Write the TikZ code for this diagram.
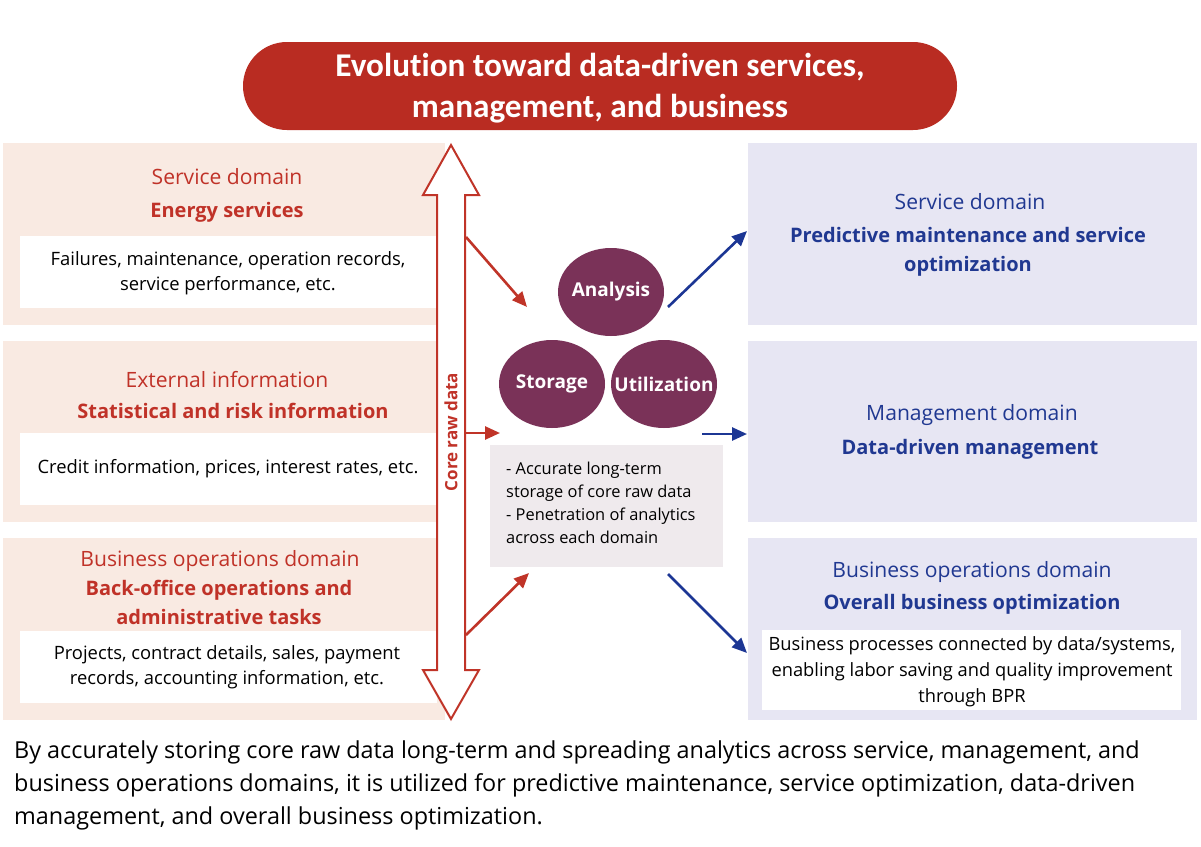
\documentclass[tikz,border=0pt]{standalone}
\usepackage{fontspec}
\setmainfont{Open Sans}
\newfontfamily\titlefont[Ligatures=NoCommon]{Carlito}
\usetikzlibrary{arrows.meta,shapes.geometric}
\definecolor{titlered}{RGB}{185,44,34}
\definecolor{lpanel}{RGB}{249,234,226}
\definecolor{redtxt}{RGB}{192,50,40}
\definecolor{arrred}{RGB}{192,52,40}
\definecolor{purp}{RGB}{122,50,88}
\definecolor{graybox}{RGB}{239,234,237}
\definecolor{rpanel}{RGB}{231,230,243}
\definecolor{bluetxt}{RGB}{32,56,145}
\definecolor{arrblue}{RGB}{28,54,148}
\tikzset{
  panelL/.style={fill=lpanel,draw=none,anchor=north west,inner sep=0pt},
  panelR/.style={fill=rpanel,draw=none,anchor=north west,inner sep=0pt},
  whitebox/.style={fill=white,draw=none,anchor=north west,inner sep=0pt},
  lhead/.style={text=redtxt,font=\fontsize{21.1}{26}\selectfont,inner sep=0pt},
  lbold/.style={text=redtxt,font=\fontsize{20}{29}\selectfont\bfseries,align=center,inner sep=0pt},
  rhead/.style={text=bluetxt,font=\fontsize{21.1}{26}\selectfont,inner sep=0pt},
  rbold/.style={text=bluetxt,font=\fontsize{20}{29}\selectfont\bfseries,align=center,inner sep=0pt},
  body/.style={text=black,font=\fontsize{18.4}{25.5}\selectfont,align=center,inner sep=0pt},
  circ/.style={ellipse,fill=purp,draw=none,minimum width=106pt,minimum height=88pt,inner sep=0pt},
  circtext/.style={text=white,font=\fontsize{19}{22}\selectfont\bfseries,inner sep=0pt},
  redarr/.style={draw=arrred,line width=2.6pt,-{Triangle[length=15pt,width=13pt]}},
  bluearr/.style={draw=arrblue,line width=2.6pt,-{Triangle[length=15pt,width=13pt]}}
}
\begin{document}
\begin{tikzpicture}[x=1pt,y=-1pt]
\useasboundingbox (0,0) rectangle (1201,846);
\fill[white] (0,0) rectangle (1201,846);
% title
\node[fill=titlered,rounded corners=44pt,minimum width=714pt,minimum height=88pt,inner sep=0pt] (titlebox) at (600,86) {};
\node[text=white,font=\titlefont\fontsize{33.2}{41}\selectfont\bfseries,align=center] (title) at (600,88) {Evolution toward data-driven services,\\management, and business};
% left panels
\node[panelL,minimum width=442pt,minimum height=182pt] (L1) at (3,143) {};
\node[panelL,minimum width=442pt,minimum height=181pt] (L2) at (3,341) {};
\node[panelL,minimum width=442pt,minimum height=182pt] (L3) at (3,538) {};
\node[whitebox,minimum width=417pt,minimum height=72pt] (W1) at (20,236) {};
\node[whitebox,minimum width=417pt,minimum height=72pt] (W2) at (20,433) {};
\node[whitebox,minimum width=417pt,minimum height=72pt] (W3) at (20,631) {};
\node[lhead] (L1h) at (227,177) {Service domain};
\node[lbold] (L1b) at (227,212) {Energy services};
\node[body] (W1t) at (228,273) {Failures, maintenance, operation records,\\service performance, etc.};
\node[lhead] (L2h) at (227,380) {External information};
\node[lbold] (L2b) at (233,411) {Statistical and risk information};
\node[body] (W2t) at (228,469) {Credit information, prices, interest rates, etc.};
\node[lhead] (L3h) at (220,561) {Business operations domain};
\node[lbold] (L3b) at (219,602) {Back-office operations and\\administrative tasks};
\node[body] (W3t) at (227,667) {Projects, contract details, sales, payment\\records, accounting information, etc.};
% right panels
\node[panelR,minimum width=449pt,minimum height=182pt] (R1) at (748,143) {};
\node[panelR,minimum width=449pt,minimum height=181pt] (R2) at (748,341) {};
\node[panelR,minimum width=449pt,minimum height=182pt] (R3) at (748,538) {};
\node[whitebox,minimum width=419pt,minimum height=80pt] (W4) at (762,630) {};
\node[rhead] (R1h) at (970,202) {Service domain};
\node[rbold] (R1b) at (968,252) {Predictive maintenance and service\\optimization};
\node[rhead] (R2h) at (972,415) {Management domain};
\node[rbold] (R2b) at (970,449) {Data-driven management};
\node[rhead] (R3h) at (972,572) {Business operations domain};
\node[rbold] (R3b) at (972,604) {Overall business optimization};
\node[text=black,font=\fontsize{18.3}{26}\selectfont,align=center,inner sep=0pt] (W4t) at (972,672) {Business processes connected by data/systems,\\enabling labor saving and quality improvement\\through BPR};
% double arrow
\draw[draw=arrred,fill=white,line width=2pt,line join=miter]
  (451,145) -- (479,195) -- (465,195) -- (465,670) -- (479,670) -- (451,719)
  -- (423,670) -- (437,670) -- (437,195) -- (423,195) -- cycle;
\node[rotate=90,text=redtxt,font=\fontsize{17}{20}\selectfont\bfseries,inner sep=0pt] (core) at (451,432) {Core raw data};
% circles
\node[circ] (ana) at (611,292) {};
\node[circ] (sto) at (552,384) {};
\node[circ] (uti) at (664,384) {};
\node[circtext] (anat) at (ana.center) {Analysis};
\node[circtext] (stot) at (sto.center) {Storage};
\node[circtext] (utit) at (uti.center) {Utilization};
% gray box
\node[fill=graybox,anchor=north west,minimum width=233pt,minimum height=122pt,inner sep=0pt] (G) at (490,445) {};
\node[anchor=north west,text=black,font=\fontsize{16.4}{23}\selectfont,align=left,inner sep=0pt] (Gt) at (506,462) {- Accurate long-term\\storage of core raw data\\- Penetration of analytics\\across each domain};
% arrows
\coordinate (a1s) at (466,237);
\coordinate (a1e) at (527,307);
\coordinate (a2s) at (466,433);
\coordinate (a2e) at (500,433);
\coordinate (a3s) at (466,635);
\coordinate (a3e) at (529,573);
\draw[redarr] (a1s) -- (a1e);
\draw[redarr] (a2s) -- (a2e);
\draw[redarr] (a3s) -- (a3e);
\coordinate (b1s) at (668,307);
\coordinate (b1e) at (747,231);
\coordinate (b2s) at (702,434);
\coordinate (b2e) at (747,434);
\coordinate (b3s) at (668,574);
\coordinate (b3e) at (747,653);
\draw[bluearr] (b1s) -- (b1e);
\draw[bluearr] (b2s) -- (b2e);
\draw[bluearr] (b3s) -- (b3e);
% caption
\node[anchor=north west,text=black,font=\fontsize{23.4}{33}\selectfont,align=left,inner sep=0pt] (cap) at (14,741) {By accurately storing core raw data long-term and spreading analytics across service, management, and\\business operations domains, it is utilized for predictive maintenance, service optimization, data-driven\\management, and overall business optimization.};
\end{tikzpicture}
\end{document}
